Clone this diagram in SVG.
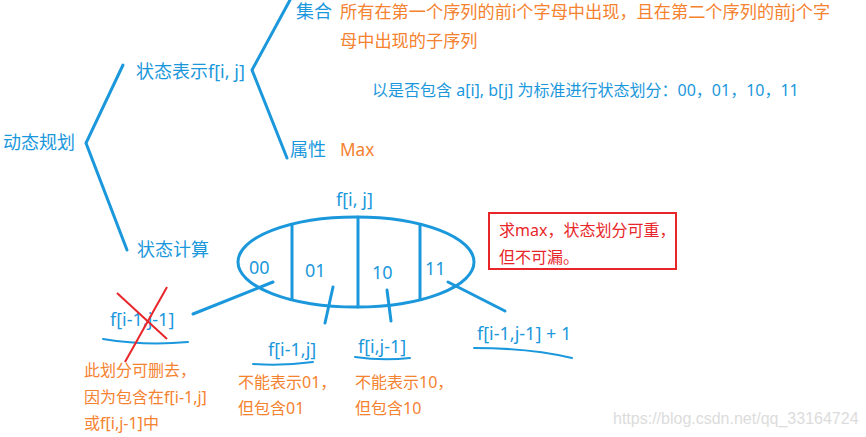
<svg xmlns="http://www.w3.org/2000/svg" width="866" height="437" viewBox="0 0 866 437">
<style>
text{font-family:"Noto Sans","Noto Sans CJK SC",sans-serif;}
.b{fill:#1b98dc;font-size:18px;}
.bs{fill:#1b98dc;font-size:16px;}
.o{fill:#f5822f;font-size:16px;}
.ot{fill:#f5822f;font-size:17.2px;}
.r{fill:#e8262a;font-size:16px;}
.ln{stroke:#1b98dc;stroke-width:3;fill:none;stroke-linecap:round;}
.ul{stroke:#1b98dc;stroke-width:2;fill:none;stroke-linecap:round;}
.x{stroke:#e8262a;stroke-width:2;fill:none;}
</style>
<rect width="866" height="437" fill="#ffffff"/>
<g id="connectors">
<polyline class="ln" points="123,65 86,143 127,250"/>
<polyline class="ln" points="290,0 252,70 287,158"/>
<line class="ln" x1="273" y1="282" x2="193" y2="314"/>
<line class="ln" x1="333" y1="287" x2="325" y2="323"/>
<line class="ln" x1="387" y1="290" x2="391" y2="321"/>
<line class="ln" x1="448" y1="282" x2="505" y2="311"/>
</g>
<g id="root"><text class="b" x="3" y="149">动态规划</text></g>
<g id="state-rep"><text class="b" x="136" y="78">状态表示f[i, j]</text></g>
<g id="set">
<text class="b" x="296" y="18">集合</text>
<text class="ot" x="340" y="18">所有在第一个序列的前i个字母中出现，且在第二个序列的前j个字</text>
<text class="ot" x="340" y="47">母中出现的子序列</text>
<text class="bs" x="372" y="96">以是否包含 a[i], b[j] 为标准进行状态划分：00，01，10，11</text>
</g>
<g id="attr">
<text class="b" x="290" y="156">属性</text>
<text class="ot" x="340" y="156">Max</text>
</g>
<g id="state-calc"><text class="b" x="137" y="256">状态计算</text></g>
<g id="ellipse">
<text class="b" x="336" y="206">f[i, j]</text>
<ellipse class="ln" cx="356" cy="262" rx="118" ry="45"/>
<line class="ln" x1="292" y1="225" x2="292" y2="299"/>
<line class="ln" x1="358" y1="217" x2="358" y2="307"/>
<line class="ln" x1="420" y1="225" x2="420" y2="299"/>
<text class="b" x="249" y="274">00</text>
<text class="b" x="305" y="277">01</text>
<text class="b" x="372" y="279">10</text>
<text class="b" x="425" y="275">11</text>
</g>
<g id="n00">
<text class="b" x="110" y="326">f[i-1,j-1]</text>
<path class="ul" d="M103,339 Q145,346 188,342"/>
<line class="x" x1="117" y1="293" x2="167" y2="339"/>
<line class="x" x1="167" y1="287" x2="125" y2="362"/>
<text class="o" x="84" y="376">此划分可删去，</text>
<text class="o" x="84" y="403">因为包含在f[i-1,j]</text>
<text class="o" x="84" y="429">或f[i,j-1]中</text>
</g>
<g id="n01">
<text class="b" x="268" y="356">f[i-1,j]</text>
<path class="ul" d="M253,364 Q283,366 313,362"/>
<text class="o" x="238" y="388">不能表示01，</text>
<text class="o" x="238" y="414">但包含01</text>
</g>
<g id="n10">
<text class="b" x="358" y="353">f[i,j-1]</text>
<path class="ul" d="M355,357 Q382,361 410,358"/>
<text class="o" x="355" y="388">不能表示10，</text>
<text class="o" x="355" y="414">但包含10</text>
</g>
<g id="n11">
<text class="b" x="477" y="340">f[i-1,j-1] + 1</text>
<path class="ul" d="M474,348 Q530,348 572,358"/>
</g>
<g id="note">
<rect x="489" y="213" width="187" height="56" fill="none" stroke="#e8262a" stroke-width="2"/>
<text class="r" x="499" y="236">求max，状态划分可重，</text>
<text class="r" x="499" y="263">但不可漏。</text>
</g>
<text x="613" y="424" font-size="16" fill="#dcdcdc" style="font-family:'Liberation Sans',sans-serif">https://blog.csdn.net/qq_33164724</text>
</svg>
